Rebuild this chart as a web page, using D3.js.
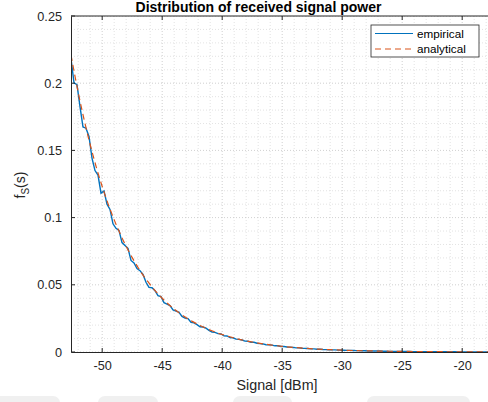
<!DOCTYPE html>
<html><head><meta charset="utf-8">
<script src="https://cdn.jsdelivr.net/npm/d3@7"></script>
<style>
body{margin:0;background:#fff;}
svg{display:block;font-family:"Liberation Sans",Arial,Helvetica,sans-serif;}
</style></head>
<body>
<svg id="chart" width="488" height="402"></svg>
<script>
// ---- data ----
const xTicks = [-50, -45, -40, -35, -30, -25, -20];
const xTickLabels = ["-50", "-45", "-40", "-35", "-30", "-25", "-20"];
const yTicks = [0, 0.05, 0.1, 0.15, 0.2, 0.25];
const yTickLabels = ["0", "0.05", "0.1", "0.15", "0.2", "0.25"];
const xDomain = [-52.6, -17.6];
const yDomain = [0, 0.25];

// empirical histogram (0.25 dB bins starting at -52.6)
const empStart = -52.6;
const empBin = 0.25;
const empirical = [
 0.2183,0.2002,0.1989,0.1826,0.1674,0.1665,0.1604,0.1443,0.1350,0.1316,
 0.1182,0.1199,0.1100,0.1061,0.0954,0.0920,0.0905,0.0814,0.0793,0.0772,
 0.0681,0.0663,0.0621,0.0605,0.0577,0.0519,0.0481,0.0478,0.0456,0.0419,
 0.0412,0.0367,0.0357,0.0345,0.0313,0.0305,0.0296,0.0265,0.0252,0.0248,
 0.0221,0.0217,0.0204,0.0188,0.0186,0.0177,0.0161,0.0149,0.0146,0.0137,
 0.0134,
 0.0120,0.0119,0.0107,0.0106,0.0096,0.0094,0.0089,0.0081,0.0080,0.0072,
 0.0072,0.0065,0.0062,0.0060,0.0054,0.0053,0.0051,0.0046,0.0046,0.0041,
 0.0041,0.0037,0.0036,0.0034,0.0031,0.0031,0.0028,0.0027,
 0.0026,0.0023,0.0023,0.0021,0.0021,0.0019,0.0018,0.0017,0.0016,0.0016,
 0.0014,0.0014,0.0013,0.0012,0.0012,0.0011,0.0010,0.0010,0.0009,0.0009,
 0.0008,0.0008,0.0007,0.0007,0.0007,0.0006,0.0006,0.0005,0.0005,0.0005,
 0.0005,0.0004,0.0004,0.0004,0.0004,0.0003,0.0003,0.0003,0.0003,0.0003,
 0.0003,0.0002,0.0002,0.0002,0.0002,0.0002,0.0002,0.0002,0.0002,0.0002,
 0.0001,0.0001,0.0001,0.0001,0.0001,0.0001,0.0001,0.0001,0.0001,0.0001,
 0.0001,0.0001
];

// analytical pdf samples
const anaX = [
 -52.6,-52.0,-51.5,-51.0,-50.5,-50.0,-49.5,-49.0,-48.5,-48.0,-47.5,-47.0,-46.5,-46.0,-45.5,-45.0,
 -44.5,-44.0,-43.5,-43.0,-42.5,-42.0,-41.5,-41.0,-40.5,-40.0,-39.0,-38.0,-37.0,-36.0,-35.0,
 -34.0,-33.0,-32.0,-31.0,-30.0,-29.0,-28.0,-27.0,-26.0,-25.0,-24.0,-23.0,-22.0,-21.0,-20.0,-19.0,-18.0,-17.6
];
const anaY = [
 0.2210,0.1931,0.1726,0.1542,0.1378,0.1231,0.1100,0.0983,0.0879,0.0785,0.0702,0.0627,0.0560,0.0501,0.0447,0.0400,
 0.0357,0.0319,0.0285,0.0255,0.0228,0.0204,0.0182,0.0163,0.0145,0.0130,0.01037,0.00828,0.00661,0.00528,0.00422,
 0.00337,0.00269,0.00215,0.00171,0.00137,0.00109,0.00087,0.00070,0.00056,0.00044,0.00035,0.00028,0.00023,0.00018,0.00014,0.00011,0.00009,0.00008
];

const seriesNames = ["empirical", "analytical"];
const colors = ["#0072BD", "#D95319"];

// ---- layout ----
const svg = d3.select("#chart");
const L = 71, T = 16, B = 352;
const R = L + (xDomain[1]-xDomain[0]) * 12;
const x = d3.scaleLinear().domain(xDomain).range([L, R]);
const y = d3.scaleLinear().domain(yDomain).range([B, T]);
const axisColor = "#262626";
const fontFam = "Liberation Sans, Arial, sans-serif";

// faint bottom shapes
const shade = svg.append("g");
[[-10,60],[98,158],[233,292],[367,470]].forEach(([a,b])=>{
  shade.append("rect").attr("x",a).attr("y",396).attr("width",b-a).attr("height",14)
    .attr("rx",7).attr("fill","#f0f0f0");
});

svg.append("defs").append("clipPath").attr("id","clip")
  .append("rect").attr("x",L).attr("y",T).attr("width",R-L).attr("height",B-T);

// grid
const grid = svg.append("g").attr("clip-path","url(#clip)");
const xMinor = d3.range(Math.ceil(xDomain[0]), xDomain[1], 1);
const yMinor = d3.range(0, 0.2501, 0.01);
grid.selectAll(".xm").data(xMinor).join("line")
  .attr("x1",d=>x(d)).attr("x2",d=>x(d)).attr("y1",T).attr("y2",B)
  .attr("stroke", d=> (Math.round(d)%5===0)?"#c4c4c4":"#dcdcdc")
  .attr("stroke-width",0.8).attr("stroke-dasharray","1,2");
grid.selectAll(".ym").data(yMinor).join("line")
  .attr("x1",L).attr("x2",R).attr("y1",d=>y(d)).attr("y2",d=>y(d))
  .attr("stroke", d=> (Math.round(d*100)%5===0)?"#c4c4c4":"#dcdcdc")
  .attr("stroke-width",0.8).attr("stroke-dasharray","1,2");

// data lines
const plot = svg.append("g").attr("clip-path","url(#clip)");
const empPts = empirical.map((v,i)=>[empStart + i*empBin, v]);
plot.append("path").datum(empPts)
  .attr("d", d3.line().x(d=>x(d[0])).y(d=>y(d[1])))
  .attr("fill","none").attr("stroke",colors[0]).attr("stroke-width",1.4);
const anaPts = anaX.map((v,i)=>[v, anaY[i]]);
plot.append("path").datum(anaPts)
  .attr("d", d3.line().x(d=>x(d[0])).y(d=>y(d[1])).curve(d3.curveMonotoneX))
  .attr("fill","none").attr("stroke",colors[1]).attr("stroke-width",1.2)
  .attr("stroke-dasharray","6,4");

// axes
const xAxis = d3.axisBottom(x).tickValues(xTicks).tickSize(0).tickPadding(9)
  .tickFormat((d,i)=>xTickLabels[i]);
const gx = svg.append("g").attr("transform",`translate(0,${B})`).call(xAxis);
gx.select(".domain").attr("stroke",axisColor);
gx.selectAll("text").attr("font-size",12.7).attr("fill",axisColor).attr("font-family",fontFam);

const yAxis = d3.axisLeft(y).tickValues(yTicks).tickSize(0).tickPadding(9)
  .tickFormat((d,i)=>yTickLabels[i]);
const gy = svg.append("g").attr("transform",`translate(${L},0)`).call(yAxis);
gy.select(".domain").attr("stroke",axisColor);
gy.selectAll("text").attr("font-size",12.7).attr("fill",axisColor).attr("font-family",fontFam);

// top line
svg.append("line").attr("x1",L).attr("x2",R).attr("y1",T).attr("y2",T).attr("stroke",axisColor);
// inward ticks
const tk = svg.append("g").attr("stroke",axisColor);
xTicks.forEach(v=>{
  tk.append("line").attr("x1",x(v)).attr("x2",x(v)).attr("y1",B).attr("y2",B-4);
  tk.append("line").attr("x1",x(v)).attr("x2",x(v)).attr("y1",T).attr("y2",T+4);
});
yTicks.forEach(v=>{
  tk.append("line").attr("x1",L).attr("x2",L+4).attr("y1",y(v)).attr("y2",y(v));
});

// title and labels
svg.append("text").attr("x",258.5).attr("y",12).attr("text-anchor","middle")
  .attr("font-size",14).attr("font-weight","bold").attr("fill","#000")
  .text("Distribution of received signal power");
svg.append("text").attr("x",277).attr("y",390).attr("text-anchor","middle")
  .attr("font-size",14.3).attr("fill",axisColor).text("Signal [dBm]");
const yl = svg.append("text").attr("transform","translate(25,185) rotate(-90)")
  .attr("text-anchor","middle").attr("font-size",14).attr("fill",axisColor);
yl.append("tspan").text("f");
yl.append("tspan").attr("font-size",10).attr("dy",4).text("S");
yl.append("tspan").attr("dy",-4).text("(s)");

// legend
const lg = svg.append("g");
lg.append("rect").attr("x",371).attr("y",25).attr("width",108).attr("height",32)
  .attr("fill","#fff").attr("stroke",axisColor).attr("stroke-width",0.8);
seriesNames.forEach((n,i)=>{
  const yy = 33.5 + i*15.5;
  lg.append("line").attr("x1",375).attr("x2",413).attr("y1",yy).attr("y2",yy)
    .attr("stroke",colors[i]).attr("stroke-width",1)
    .attr("stroke-dasharray", i===1 ? "6,4" : null);
  lg.append("text").attr("x",417).attr("y",yy+4).attr("font-size",11.7)
    .attr("fill","#000").text(n);
});
</script>
</body></html>
